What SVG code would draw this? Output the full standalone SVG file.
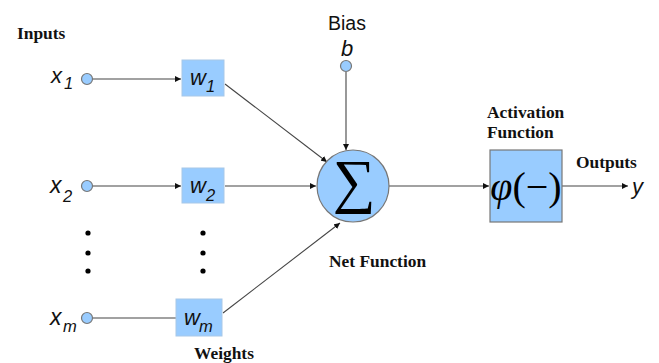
<svg xmlns="http://www.w3.org/2000/svg" width="659" height="363" viewBox="0 0 659 363">
<style>
.lbl{font-family:"Liberation Serif",serif;font-weight:bold;font-size:17.4px;fill:#111}
.var{font-family:"Liberation Sans",Arial,sans-serif;font-style:italic;font-size:22px;fill:#111}
.varL{font-family:"Liberation Sans",Arial,sans-serif;font-style:italic;font-size:23px;fill:#111}
.sub{font-family:"Liberation Sans",Arial,sans-serif;font-style:italic;font-size:16.5px;fill:#111}
.node{fill:#99ccff;stroke:#777;stroke-width:1.2}
.box{fill:#99ccff;stroke:#a7c8e8;stroke-width:1}
.edge{stroke:#444;stroke-width:1.1;fill:none;marker-end:url(#ah)}
.edgen{stroke:#444;stroke-width:1.1;fill:none}
</style>
<defs>
<marker id="ah" viewBox="0 0 10 10" refX="10" refY="5" markerWidth="6" markerHeight="6" orient="auto" markerUnits="userSpaceOnUse"><path d="M0,0 L10,5 L0,10 z" fill="#111"/></marker>
</defs>
<rect width="659" height="363" fill="#fff"/>
<text class="lbl" x="17" y="39">Inputs</text>
<text class="lbl" x="194" y="359">Weights</text>
<text class="lbl" x="329" y="267">Net Function</text>
<text class="lbl" x="487" y="118">Activation</text>
<text class="lbl" x="487" y="138">Function</text>
<text class="lbl" x="576" y="168">Outputs</text>
<text x="328" y="30" font-family="Liberation Sans,Arial,sans-serif" font-size="19.5" fill="#111">Bias</text>
<g id="connectors">
<line class="edge" x1="92" y1="79" x2="181" y2="79"/>
<line class="edge" x1="92" y1="186" x2="181" y2="186"/>
<line class="edgen" x1="92" y1="318" x2="176" y2="318"/>
<line class="edge" x1="225" y1="84" x2="327" y2="162"/>
<line class="edge" x1="225" y1="186" x2="316" y2="186"/>
<line class="edge" x1="223" y1="313" x2="340" y2="223"/>
<line class="edge" x1="346" y1="72" x2="346" y2="150"/>
<line class="edge" x1="389" y1="186" x2="489" y2="186"/>
<line class="edge" x1="562" y1="186" x2="628" y2="186"/>
</g>
<g id="x1"><circle class="node" cx="87" cy="79" r="5.5"/><text class="var" x="51" y="83">x</text><text class="sub" x="64" y="89">1</text></g>
<g id="x2"><circle class="node" cx="87" cy="186" r="5.5"/><text class="varL" x="50" y="193">x</text><text class="sub" x="63" y="202">2</text></g>
<g id="xm"><circle class="node" cx="87" cy="318" r="5.5"/><text class="varL" x="50" y="325">x</text><text class="sub" x="63" y="332">m</text></g>
<g id="dots1" fill="#000"><circle cx="88" cy="233" r="2.6"/><circle cx="88" cy="253" r="2.6"/><circle cx="88" cy="271" r="2.6"/></g>
<g id="dots2" fill="#000"><circle cx="203" cy="233" r="2.6"/><circle cx="203" cy="253" r="2.6"/><circle cx="203" cy="271" r="2.6"/></g>
<g id="w1"><rect class="box" x="182" y="60" width="42" height="36"/><text class="var" x="190" y="85">w</text><text class="sub" x="206" y="92">1</text></g>
<g id="w2"><rect class="box" x="182" y="168" width="42" height="35"/><text class="var" x="190" y="193">w</text><text class="sub" x="206" y="201">2</text></g>
<g id="wm"><rect class="box" x="176" y="299" width="46" height="37"/><text class="var" x="184" y="325">w</text><text class="sub" x="199" y="332">m</text></g>
<g id="bias"><circle class="node" cx="346" cy="66" r="5.5"/><text class="var" x="341" y="56">b</text></g>
<g id="sum"><circle class="node" cx="353" cy="186" r="36"/><text x="354" y="201" text-anchor="middle" font-family="Liberation Serif,serif" font-size="60" fill="#000">∑</text></g>
<g id="activation"><rect x="490" y="150" width="72" height="72" fill="#99ccff" stroke="#777" stroke-width="1.2"/><text x="526" y="200" text-anchor="middle" font-family="Liberation Serif,serif" font-size="40" fill="#000"><tspan font-style="italic">φ</tspan>(−)</text></g>
<g id="output"><text class="var" x="632" y="194">y</text></g>
</svg>
